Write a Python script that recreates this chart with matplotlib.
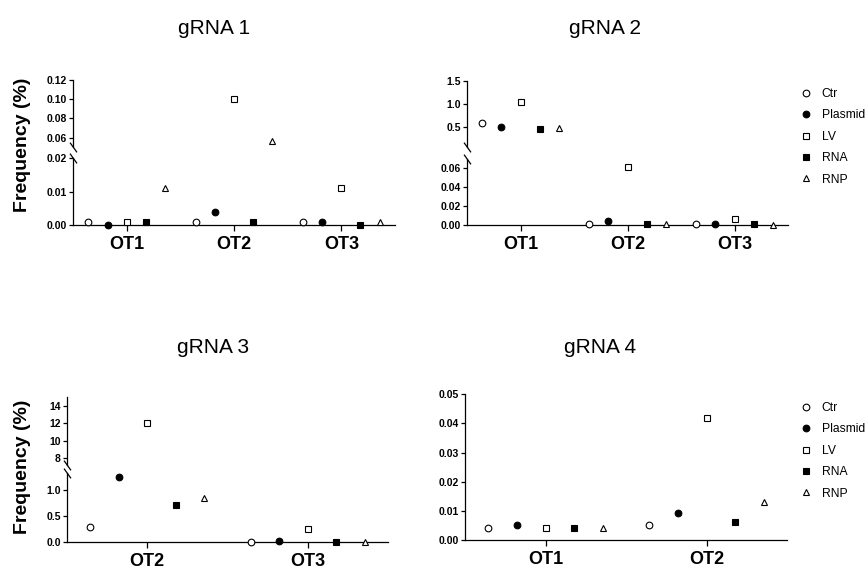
import numpy as np
import matplotlib
matplotlib.use('Agg')
import matplotlib.pyplot as plt
from matplotlib.lines import Line2D
from matplotlib.ticker import FormatStrFormatter

plt.rcParams['font.family'] = ['Liberation Sans', 'DejaVu Sans']

W, H = 868, 569

series = ['Ctr', 'Plasmid', 'LV', 'RNA', 'RNP']

# gRNA 1
g1_sites = ['OT1', 'OT2', 'OT3']
g1_ctr = [0.001, 0.001, 0.001]
g1_plasmid = [0.000, 0.004, 0.001]
g1_lv = [0.001, 0.100, 0.011]
g1_rna = [0.001, 0.001, 0.000]
g1_rnp = [0.011, 0.057, 0.001]

# gRNA 2
g2_sites = ['OT1', 'OT2', 'OT3']
g2_ctr = [0.59, 0.001, 0.001]
g2_plasmid = [0.49, 0.0045, 0.001]
g2_lv = [1.03, 0.061, 0.0067]
g2_rna = [0.45, 0.001, 0.0018]
g2_rnp = [0.47, 0.0015, 0.0003]

# gRNA 3
g3_sites = ['OT2', 'OT3']
g3_ctr = [0.29, 0.00]
g3_plasmid = [1.27, 0.01]
g3_lv = [12.0, 0.24]
g3_rna = [0.71, 0.00]
g3_rnp = [0.86, 0.00]

# gRNA 4
g4_sites = ['OT1', 'OT2']
g4_ctr = [0.0042, 0.0051]
g4_plasmid = [0.0051, 0.0092]
g4_lv = [0.0042, 0.042]
g4_rna = [0.0042, 0.0062]
g4_rnp = [0.0042, 0.013]

styles = {
    'Ctr': dict(marker='o', mfc='white', ms=4.8),
    'Plasmid': dict(marker='o', mfc='black', ms=4.8),
    'LV': dict(marker='s', mfc='white', ms=4.8),
    'RNA': dict(marker='s', mfc='black', ms=4.8),
    'RNP': dict(marker='^', mfc='white', ms=4.8),
}
offsets = (np.arange(len(series)) - 2) * 0.178

fig = plt.figure(figsize=(W / 100, H / 100), dpi=100)


def box(l, t, r, b):
    return [l / W, 1 - b / H, (r - l) / W, (b - t) / H]


def base_style(ax):
    for s in ['top', 'right']:
        ax.spines[s].set_visible(False)
    for s in ['left', 'bottom']:
        ax.spines[s].set_linewidth(0.9)
    ax.tick_params(axis='y', direction='out', length=3, width=0.9, pad=1.5,
                   labelsize=7.5)
    for lab in ax.get_yticklabels():
        lab.set_fontweight('bold')
    ax.tick_params(axis='x', direction='out', length=4, width=0.9, pad=4,
                   labelsize=13)
    ax.set_facecolor('none')


def plot_series(ax, sites, data, mask_fn=None):
    x0 = np.arange(len(sites))
    for i, name in enumerate(series):
        y = np.asarray(data[i], dtype=float)
        x = x0 + offsets[i]
        if mask_fn is not None:
            m = mask_fn(y)
            x, y = x[m], y[m]
        st = styles[name]
        ax.plot(x, y, linestyle='none', marker=st['marker'], ms=st['ms'],
                mfc=st['mfc'], mec='black', mew=0.8, clip_on=False, zorder=5)


def set_x(ax, sites, show):
    ax.set_xlim(-0.5, len(sites) - 0.5)
    ax.set_xticks(np.arange(len(sites)))
    if show:
        ax.set_xticklabels(sites, fontweight='bold')
    else:
        ax.set_xticklabels([])
        ax.tick_params(axis='x', bottom=False, labelbottom=False)
        ax.spines['bottom'].set_visible(False)


def break_mark(ax, y):
    ax.plot([0], [y], transform=ax.transAxes, linestyle='none',
            marker=[(-1, 1.4), (1, -1.4)], ms=7, mec='black', mfc='none',
            mew=0.9, clip_on=False)


def broken_panel(upper_box, lower_box, sites, data, ylo, yhi,
                 ticks_lo, ticks_hi, fmt_lo, fmt_hi):
    axu = fig.add_axes(box(*upper_box))
    axl = fig.add_axes(box(*lower_box))
    axu.set_ylim(*yhi)
    axl.set_ylim(*ylo)
    axu.set_yticks(ticks_hi)
    axl.set_yticks(ticks_lo)
    axu.yaxis.set_major_formatter(FormatStrFormatter(fmt_hi))
    axl.yaxis.set_major_formatter(FormatStrFormatter(fmt_lo))
    set_x(axu, sites, False)
    set_x(axl, sites, True)
    base_style(axu)
    base_style(axl)
    plot_series(axu, sites, data, lambda y: y >= yhi[0])
    plot_series(axl, sites, data, lambda y: y <= ylo[1])
    break_mark(axu, 0)
    break_mark(axl, 1)
    return axu, axl


# gRNA 1
ax1u, ax1l = broken_panel((73, 80, 395, 147.3), (73, 158.3, 395, 225.3),
                          g1_sites, [g1_ctr, g1_plasmid, g1_lv, g1_rna, g1_rnp],
                          (0, 0.02), (0.05, 0.12),
                          [0, 0.01, 0.02], [0.06, 0.08, 0.10, 0.12],
                          '%.2f', '%.2f')

# gRNA 2
ax2u, ax2l = broken_panel((467, 80.7, 788, 146.5), (467, 158.8, 788, 225.3),
                          g2_sites, [g2_ctr, g2_plasmid, g2_lv, g2_rna, g2_rnp],
                          (0, 0.07), (0.07, 1.5),
                          [0, 0.02, 0.04, 0.06], [0.5, 1.0, 1.5],
                          '%.2f', '%.1f')

# gRNA 3
ax3u, ax3l = broken_panel((67, 396.7, 388, 465), (67, 472.5, 388, 541.7),
                          g3_sites, [g3_ctr, g3_plasmid, g3_lv, g3_rna, g3_rnp],
                          (0, 1.35), (7.25, 15),
                          [0, 0.5, 1.0], [8, 10, 12, 14],
                          '%.1f', '%d')

# gRNA 4
ax4 = fig.add_axes(box(465, 394.3, 787, 540))
ax4.set_ylim(0, 0.05)
ax4.set_yticks([0, 0.01, 0.02, 0.03, 0.04, 0.05])
ax4.yaxis.set_major_formatter(FormatStrFormatter('%.2f'))
set_x(ax4, g4_sites, True)
base_style(ax4)
plot_series(ax4, g4_sites, [g4_ctr, g4_plasmid, g4_lv, g4_rna, g4_rnp])

# Titles
for txt, (x, y) in zip(['gRNA 1', 'gRNA 2', 'gRNA 3', 'gRNA 4'],
                       [(214, 34), (605, 34), (213, 353), (600, 353)]):
    fig.text(x / W, 1 - y / H, txt, ha='center', va='baseline', fontsize=15)

# Y labels
for y in [145, 467]:
    fig.text(23 / W, 1 - y / H, 'Frequency (%)', rotation=90, ha='center',
             va='center', fontsize=14, fontweight='bold')

# Legends
handles = [Line2D([], [], linestyle='none', marker=styles[n]['marker'],
                  ms=styles[n]['ms'], mfc=styles[n]['mfc'], mec='black',
                  mew=0.8) for n in series]
for (x, y) in [(800, 88), (800, 402)]:
    fig.legend(handles, series, loc='upper left',
               bbox_to_anchor=(x / W, 1 - y / H), frameon=False,
               fontsize=8.7, handlelength=1.0, handletextpad=0.8,
               labelspacing=0.78, borderpad=0, borderaxespad=0)

fig.savefig('out.png', dpi=100)
